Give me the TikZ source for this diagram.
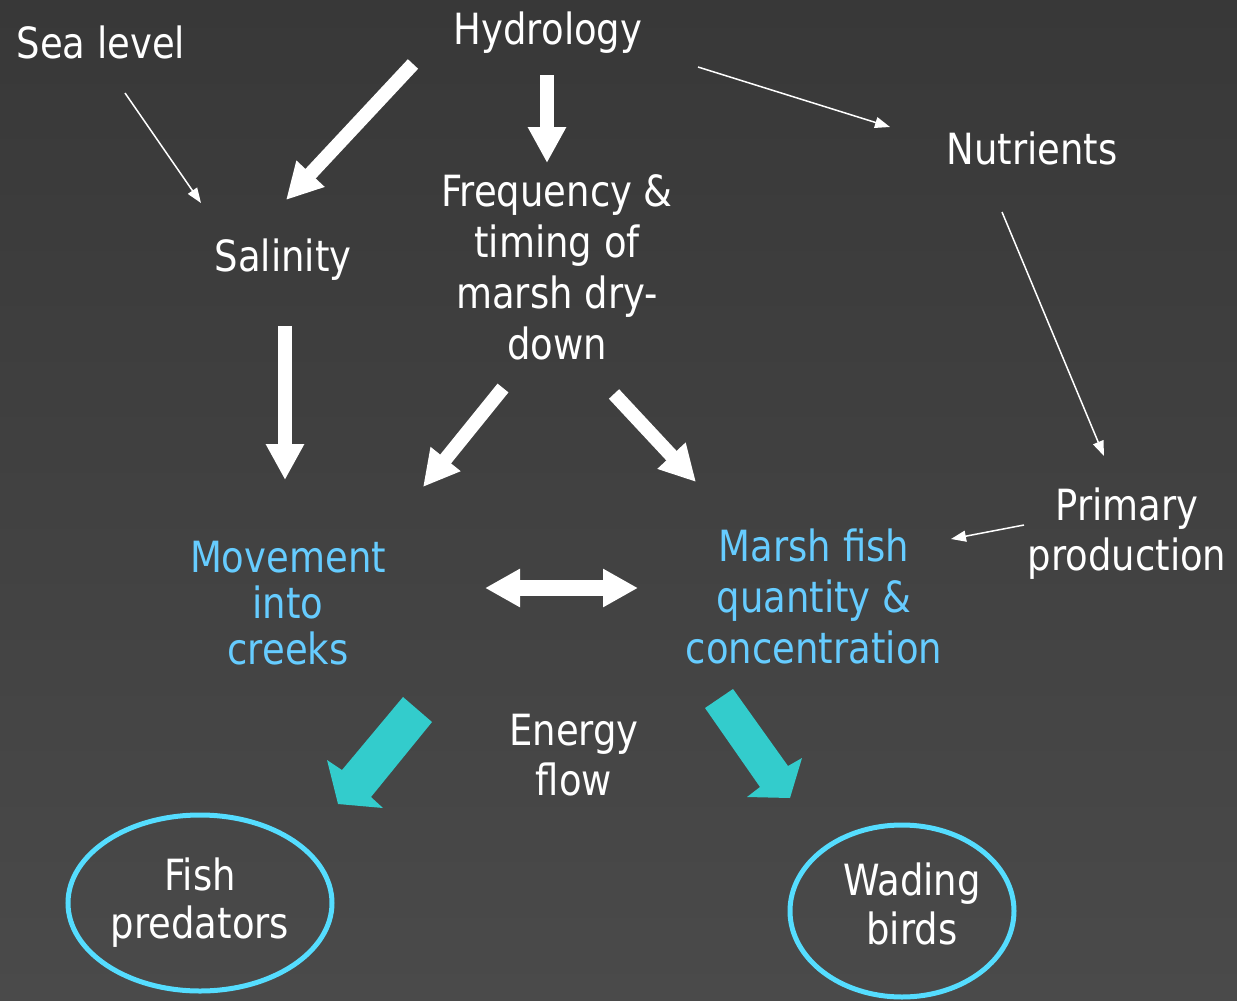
\documentclass[tikz,border=0pt]{standalone}
\usepackage{fontspec}
\setmainfont{DejaVu Sans}[FakeStretch=0.86]
\usetikzlibrary{arrows.meta,shapes.geometric}
\definecolor{bgtop}{HTML}{383838}
\definecolor{bgbot}{HTML}{4A4A4A}
\definecolor{txtcyan}{HTML}{66CCFF}
\definecolor{ellcyan}{HTML}{55DDFF}
\definecolor{arrcyan}{HTML}{33CCCC}
\newcommand\zs{\rule[-11pt]{0pt}{44pt}}
\begin{document}
\begin{tikzpicture}[x=1pt,y=-1pt,
  lbl/.style={text=white, font=\fontsize{43}{51}\selectfont, align=center, inner sep=0pt, anchor=north},
  cylbl/.style={lbl, text=txtcyan},
  bigarrow/.style={white, line width=14pt, -{Triangle[width=36pt,length=36pt]}},
  dblarrow/.style={white, line width=16pt, {Triangle[width=36pt,length=35pt]}-{Triangle[width=36pt,length=35pt]}},
  thinarrow/.style={white, line width=1.5pt, -{Triangle[width=11pt,length=15pt]}},
  oval/.style={ellipse, draw=ellcyan, line width=5pt, inner sep=0pt},
  energyarrow/.style={fill=arrcyan}]
\useasboundingbox (0,0) rectangle (1237,1001);
\shade[top color=bgtop, bottom color=bgbot] (0,0) rectangle (1237,1001);

% labels
\node[lbl] (sea) at (101,25) {\zs Sea level};
\node[lbl] (hyd) at (548,11) {\zs Hydrology};
\node[lbl] (nut) at (1032,131) {\zs Nutrients};
\node[lbl] (sal) at (283,238) {\zs Salinity};
\node[lbl] (freq) at (557,173) {\zs Frequency \&\\\zs timing of\\\zs marsh dry-\\\zs down};
\node[cylbl, font=\fontsize{43}{46}\selectfont] (mov) at (288,539) {\zs Movement\\\zs into\\\zs creeks};
\node[cylbl] (marsh) at (814,528) {\zs Marsh fish\\\zs quantity \&\\\zs concentration};
\node[lbl, font=\fontsize{43}{50}\selectfont] (prim) at (1127,487) {\zs Primary\\\zs production};
\node[lbl, font=\fontsize{43}{50}\selectfont] (energy) at (574,712) {\zs Energy\\\zs flow};

% ovals
\node[oval, minimum width=264pt, minimum height=176pt] (fishE) at (200,903) {};
\node[lbl, font=\fontsize{43}{48}\selectfont] (fish) at (200,857) {\zs Fish\\\zs predators};
\node[oval, minimum width=224pt, minimum height=172pt] (wadE) at (902,911) {};
\node[lbl, font=\fontsize{43}{49}\selectfont] (wad) at (912,862) {\zs Wading\\\zs birds};

% connector end points
\coordinate (seaS) at (125,93);   \coordinate (salN) at (201,203);
\coordinate (hydR) at (698,67);   \coordinate (nutL) at (890,127);
\coordinate (nutS) at (1002,212); \coordinate (primN) at (1104,456);
\coordinate (primW) at (1024,525);\coordinate (marshE) at (951,539);
\coordinate (hydSW) at (413,64);  \coordinate (salNE) at (286,200);
\coordinate (hydS) at (547,75);   \coordinate (freqN) at (547,163);
\coordinate (salS) at (285,326);  \coordinate (movN) at (285,480);
\coordinate (freqSW) at (503,388);\coordinate (movNE) at (423,487);
\coordinate (freqSE) at (614,394);\coordinate (marshNW) at (696,482);
\coordinate (movE) at (485,588);  \coordinate (marshW) at (638,588);

% thin connectors
\draw[thinarrow] (seaS) -- (salN);
\draw[thinarrow] (hydR) -- (nutL);
\draw[thinarrow] (nutS) -- (primN);
\draw[thinarrow] (primW) -- (marshE);

% thick connectors
\draw[bigarrow] (hydSW) -- (salNE);
\draw[bigarrow] (hydS) -- (freqN);
\draw[bigarrow] (salS) -- (movN);
\draw[bigarrow] (freqSW) -- (movNE);
\draw[bigarrow] (freqSE) -- (marshNW);
\draw[dblarrow] (movE) -- (marshW);

% energy flow block arrows
\fill[energyarrow] (403,697) -- (432,722) -- (371,797) -- (383,808) -- (338,804) -- (327,760) -- (342,770) -- cycle;
\fill[energyarrow] (733,689) -- (788,766) -- (802,758) -- (790,798) -- (747,797) -- (760,787) -- (705,708) -- cycle;
\end{tikzpicture}
\end{document}
